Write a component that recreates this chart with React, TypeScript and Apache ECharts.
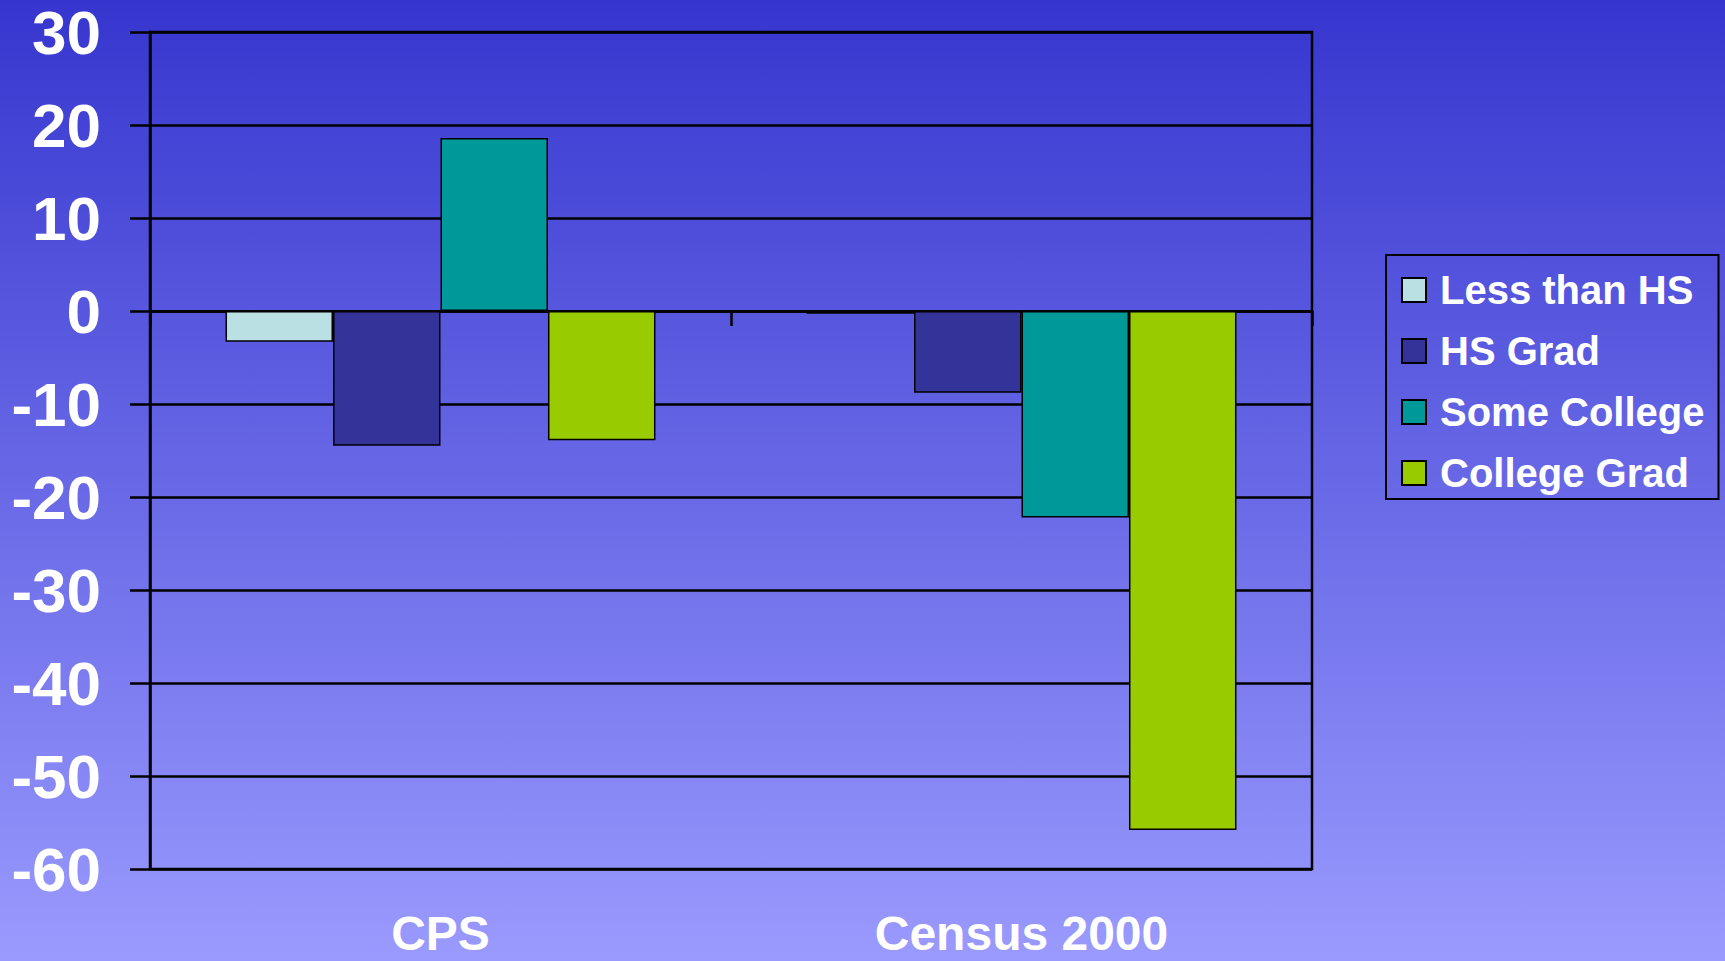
import React, { useEffect, useRef } from "react";
import * as echarts from "echarts";

const categories = ["CPS", "Census 2000"];
const seriesNames = ["Less than HS", "HS Grad", "Some College", "College Grad"];
const lessThanHS = [-3.3, -0.3];
const hsGrad = [-14.5, -8.8];
const someCollege = [18.6, -22.2];
const collegeGrad = [-13.9, -55.8];
const seriesValues = [lessThanHS, hsGrad, someCollege, collegeGrad];
const seriesColors = ["#BBE0E3", "#333399", "#009999", "#99CC00"];

const FONT = "'Liberation Sans', Arial, Helvetica, sans-serif";

export default function App() {
  const ref = useRef<HTMLDivElement>(null);
  useEffect(() => {
    if (!ref.current) return;
    const chart = echarts.init(ref.current, undefined, { renderer: "svg" });
    chart.setOption({
      animation: false,
      backgroundColor: new echarts.graphic.LinearGradient(0, 0, 0, 1, [
        { offset: 0, color: "#3636CF" },
        { offset: 1, color: "#9A9AFE" },
      ]),
      grid: {
        left: 150,
        right: 413,
        top: 32,
        bottom: 92,
        show: true,
        borderColor: "#000",
        borderWidth: 2.5,
        backgroundColor: "transparent",
      },
      legend: {
        orient: "vertical",
        left: 1386,
        top: 255,
        padding: [15, 14, 6, 15],
        borderColor: "#000",
        borderWidth: 2,
        itemWidth: 24,
        itemHeight: 24,
        itemGap: 21,
        icon: "rect",
        itemStyle: { borderColor: "#000", borderWidth: 2 },
        textStyle: {
          color: "#fff",
          fontSize: 40,
          fontWeight: "bold",
          fontFamily: FONT,
          lineHeight: 40,
          padding: [0, 0, 0, 9],
        },
        data: seriesNames,
      },
      xAxis: [
        {
          type: "category",
          data: categories,
          position: "bottom",
          axisLine: { onZero: true, lineStyle: { color: "#000", width: 2.5 } },
          axisTick: { show: true, length: 15, lineStyle: { color: "#000", width: 2.5 } },
          axisLabel: { show: false },
          splitLine: { show: false },
        },
        {
          type: "category",
          data: categories,
          position: "bottom",
          axisLine: { show: false, onZero: false },
          axisTick: { show: false },
          axisLabel: {
            show: true,
            color: "#fff",
            fontSize: 48,
            fontWeight: "bold",
            fontFamily: FONT,
            lineHeight: 36,
            margin: 46,
          },
          splitLine: { show: false },
        },
      ],
      yAxis: {
        type: "value",
        min: -60,
        max: 30,
        interval: 10,
        axisLine: { show: true, lineStyle: { color: "#000", width: 2.5 } },
        axisTick: { show: true, length: 20, lineStyle: { color: "#000", width: 2.5 } },
        axisLabel: {
          color: "#fff",
          fontSize: 62,
          fontWeight: "bold",
          fontFamily: FONT,
          lineHeight: 50,
          margin: 49,
        },
        splitLine: { show: true, lineStyle: { color: "#000", width: 2.5 } },
      },
      series: seriesNames.map((name, i) => ({
        name,
        type: "bar",
        xAxisIndex: 0,
        data: seriesValues[i],
        barGap: "0%",
        barCategoryGap: "26%",
        itemStyle: { color: seriesColors[i], borderColor: "#000", borderWidth: 1.5 },
      })),
    });
    return () => chart.dispose();
  }, []);
  return (
    <div
      ref={ref}
      style={{ position: "fixed", left: 0, top: 0, width: 1725, height: 961 }}
    />
  );
}
